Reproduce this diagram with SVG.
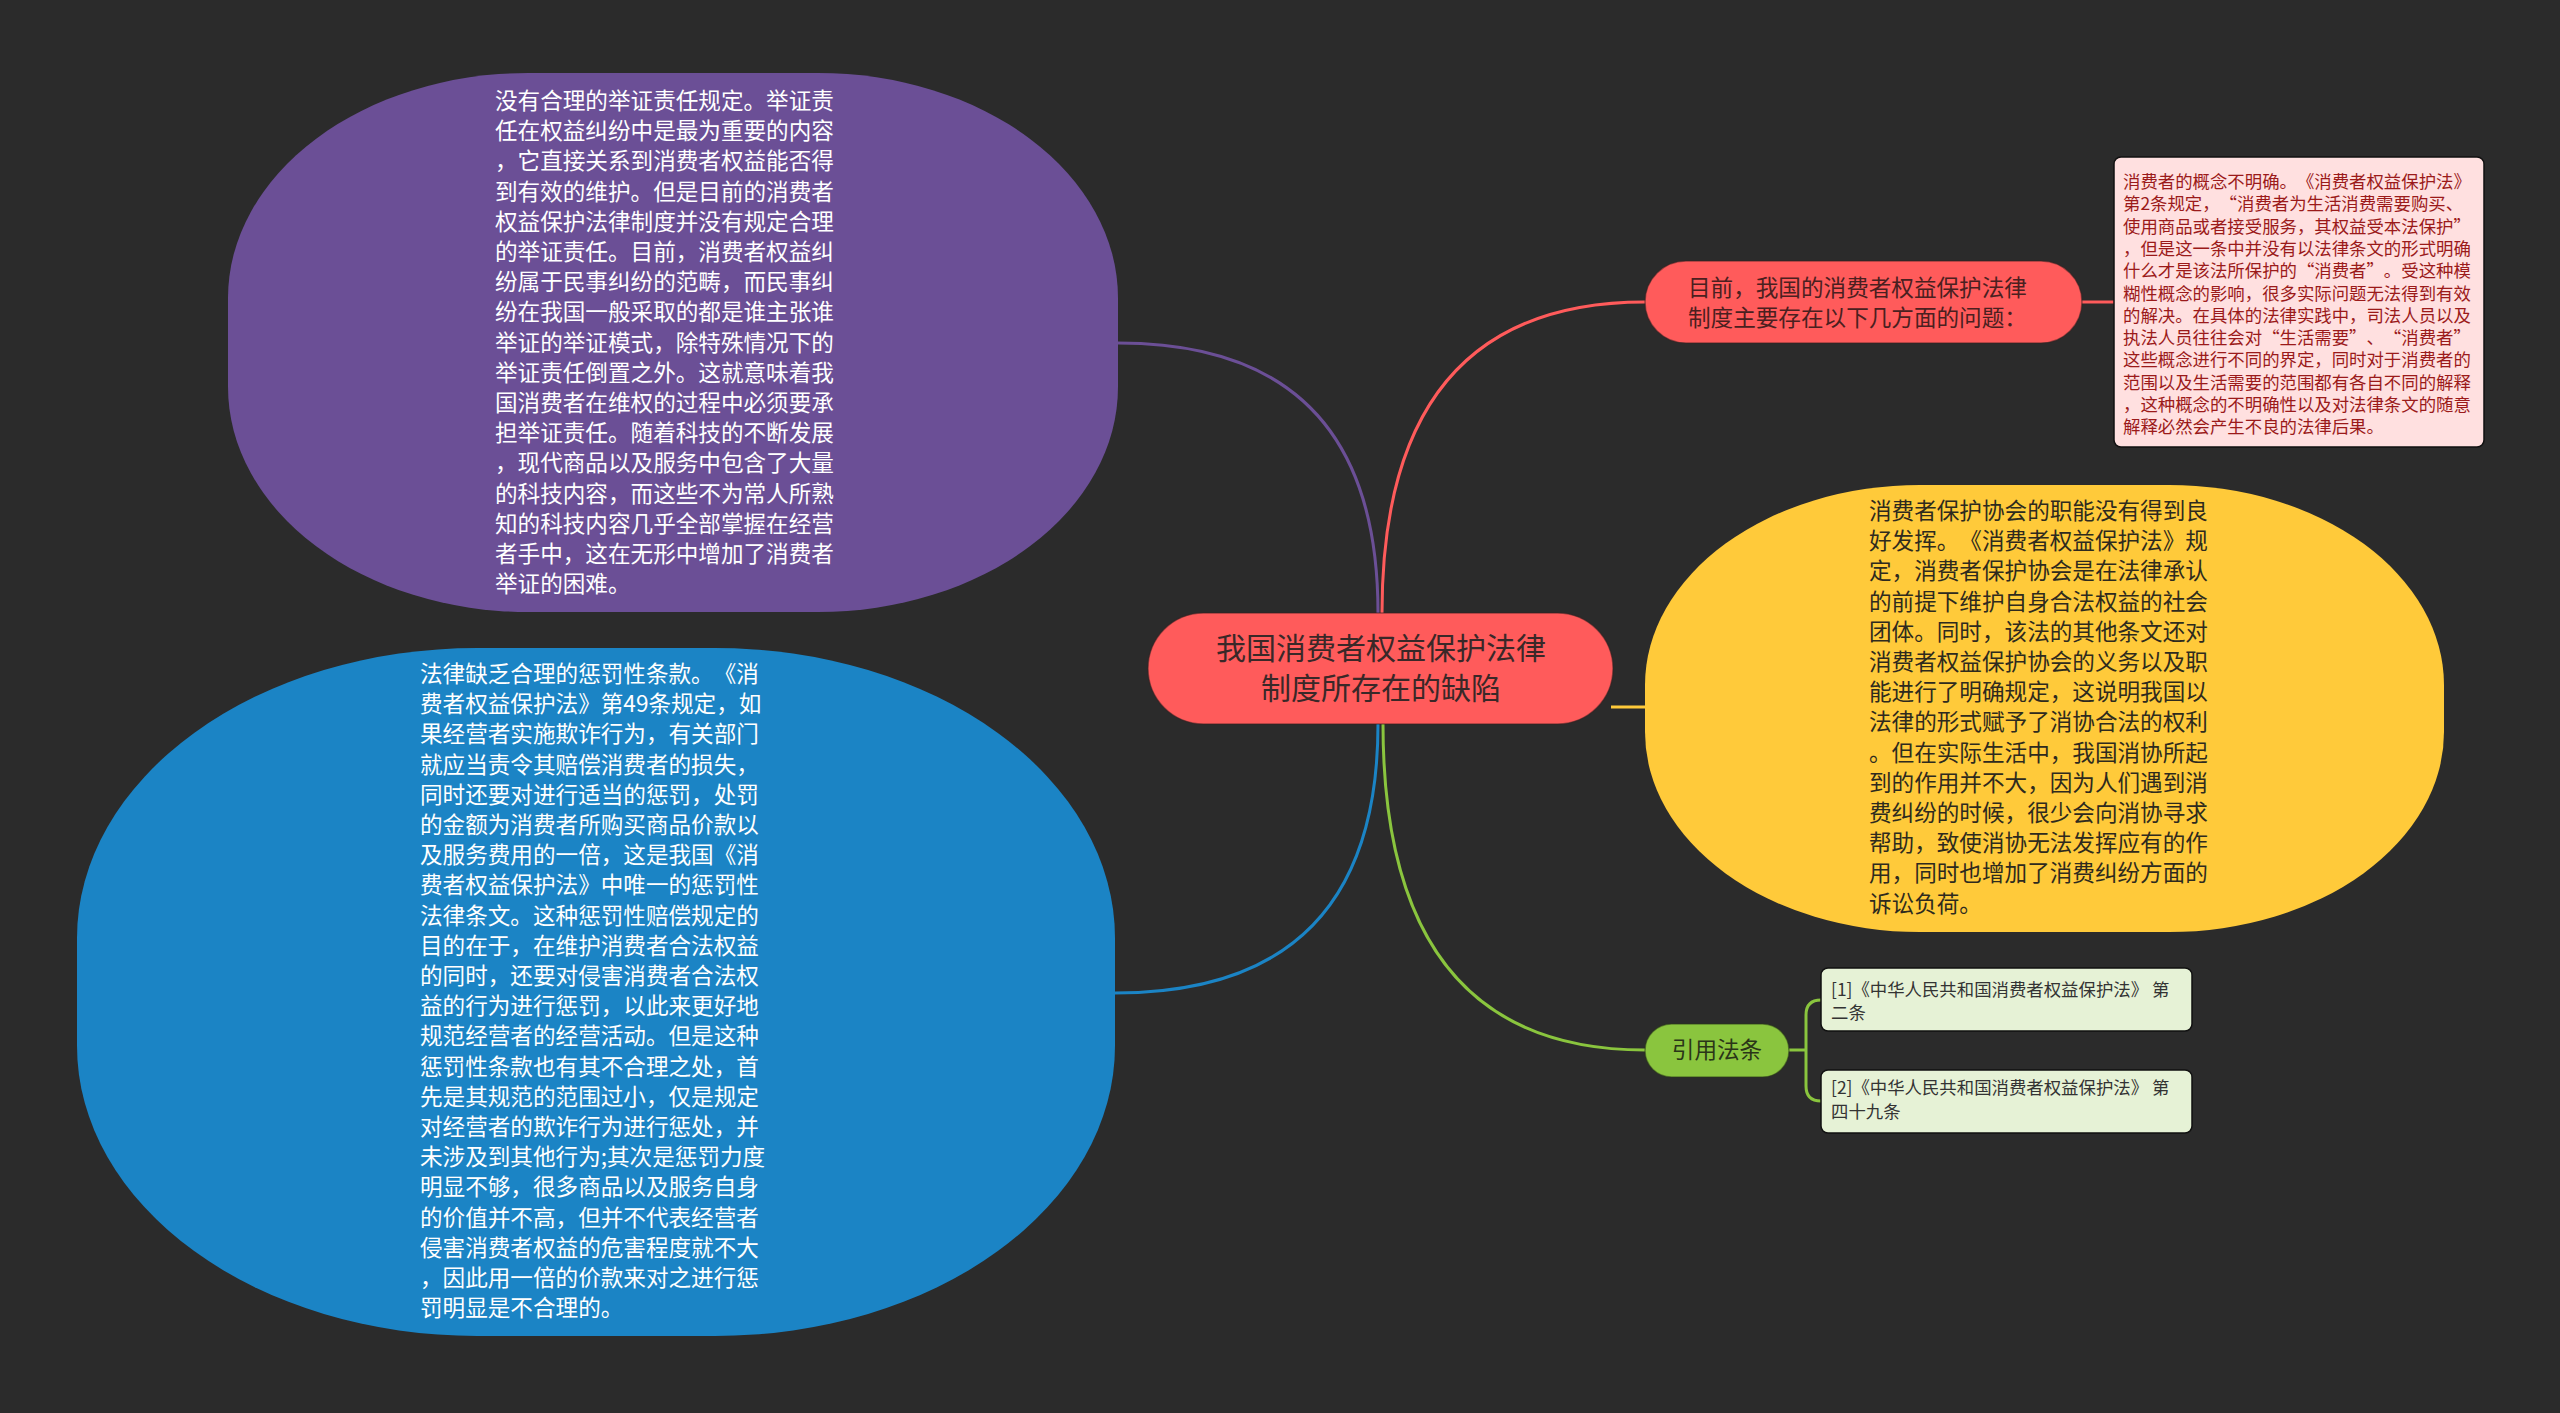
<svg xmlns="http://www.w3.org/2000/svg" width="2560" height="1413" viewBox="0 0 2560 1413">
<style>
text{font-family:"Noto Sans CJK SC","Noto Sans",sans-serif;text-spacing-trim:space-all;font-feature-settings:"chws" 0,"halt" 0;}
.big{font-size:22.6px;}
.w{fill:#ffffff;}
.dk{fill:#2e2a1e;}
.small{font-size:17.4px;}
.conn{fill:none;stroke-width:3;}
</style>
<rect width="2560" height="1413" fill="#2b2b2b"/>
<g id="connectors">
<path class="conn" stroke="#6b4f96" d="M1378 613 Q1378 343 1118 343"/>
<path class="conn" stroke="#ff5b5b" d="M1382 613 Q1382 302 1645 302"/>
<path class="conn" stroke="#ff5b5b" d="M2082 302 L2114 302"/>
<path class="conn" stroke="#ffca3a" d="M1611 707 L1645 707"/>
<path class="conn" stroke="#1b84c5" d="M1378 724 Q1378 993 1115 993"/>
<path class="conn" stroke="#8ac53e" d="M1383 724 Q1383 1050 1645 1050"/>
<path class="conn" stroke="#8ac53e" d="M1789 1050 L1806 1050 M1821 1000 Q1806 1000 1806 1015 L1806 1086 Q1806 1101 1821 1101"/>
</g>
<g id="node-purple">
<rect x="228" y="73" width="890" height="539" rx="300" ry="225" fill="#6b4f96"/>
<text class="big w" x="495">
<tspan x="495" y="109">没有合理的举证责任规定。举证责</tspan>
<tspan x="495" y="139.2">任在权益纠纷中是最为重要的内容</tspan>
<tspan x="495" y="169.4">，它直接关系到消费者权益能否得</tspan>
<tspan x="495" y="199.6">到有效的维护。但是目前的消费者</tspan>
<tspan x="495" y="229.8">权益保护法律制度并没有规定合理</tspan>
<tspan x="495" y="260">的举证责任。目前，消费者权益纠</tspan>
<tspan x="495" y="290.2">纷属于民事纠纷的范畴，而民事纠</tspan>
<tspan x="495" y="320.4">纷在我国一般采取的都是谁主张谁</tspan>
<tspan x="495" y="350.6">举证的举证模式，除特殊情况下的</tspan>
<tspan x="495" y="380.8">举证责任倒置之外。这就意味着我</tspan>
<tspan x="495" y="411">国消费者在维权的过程中必须要承</tspan>
<tspan x="495" y="441.2">担举证责任。随着科技的不断发展</tspan>
<tspan x="495" y="471.4">，现代商品以及服务中包含了大量</tspan>
<tspan x="495" y="501.6">的科技内容，而这些不为常人所熟</tspan>
<tspan x="495" y="531.8">知的科技内容几乎全部掌握在经营</tspan>
<tspan x="495" y="562">者手中，这在无形中增加了消费者</tspan>
<tspan x="495" y="592.2">举证的困难。</tspan>
</text>
</g>
<g id="node-blue">
<rect x="77" y="648" width="1038" height="688" rx="400" ry="290" fill="#1b84c5"/>
<text class="big w">
<tspan x="420" y="682">法律缺乏合理的惩罚性条款。《消</tspan>
<tspan x="420" y="712.2">费者权益保护法》第49条规定，如</tspan>
<tspan x="420" y="742.4">果经营者实施欺诈行为，有关部门</tspan>
<tspan x="420" y="772.6">就应当责令其赔偿消费者的损失，</tspan>
<tspan x="420" y="802.8">同时还要对进行适当的惩罚，处罚</tspan>
<tspan x="420" y="833">的金额为消费者所购买商品价款以</tspan>
<tspan x="420" y="863.2">及服务费用的一倍，这是我国《消</tspan>
<tspan x="420" y="893.4">费者权益保护法》中唯一的惩罚性</tspan>
<tspan x="420" y="923.6">法律条文。这种惩罚性赔偿规定的</tspan>
<tspan x="420" y="953.8">目的在于，在维护消费者合法权益</tspan>
<tspan x="420" y="984">的同时，还要对侵害消费者合法权</tspan>
<tspan x="420" y="1014.2">益的行为进行惩罚，以此来更好地</tspan>
<tspan x="420" y="1044.4">规范经营者的经营活动。但是这种</tspan>
<tspan x="420" y="1074.6">惩罚性条款也有其不合理之处，首</tspan>
<tspan x="420" y="1104.8">先是其规范的范围过小，仅是规定</tspan>
<tspan x="420" y="1135">对经营者的欺诈行为进行惩处，并</tspan>
<tspan x="420" y="1165.2">未涉及到其他行为;其次是惩罚力度</tspan>
<tspan x="420" y="1195.4">明显不够，很多商品以及服务自身</tspan>
<tspan x="420" y="1225.6">的价值并不高，但并不代表经营者</tspan>
<tspan x="420" y="1255.8">侵害消费者权益的危害程度就不大</tspan>
<tspan x="420" y="1286">，因此用一倍的价款来对之进行惩</tspan>
<tspan x="420" y="1316.2">罚明显是不合理的。</tspan>
</text>
</g>
<g id="node-center">
<rect x="1148" y="613" width="465" height="111" rx="55.5" fill="#ff5b5b" stroke="#3a2222" stroke-opacity="0.5" stroke-width="1.5"/>
<text x="1381" y="658.5" text-anchor="middle" font-size="30" fill="#3a2828">我国消费者权益保护法律</text>
<text x="1381" y="698.5" text-anchor="middle" font-size="30" fill="#3a2828">制度所存在的缺陷</text>
</g>
<g id="node-problems">
<rect x="1645" y="261" width="437" height="82" rx="41" fill="#ff5b5b" stroke="#3a2222" stroke-opacity="0.5" stroke-width="1.5"/>
<text class="big" fill="#4a2020"><tspan x="1688" y="296">目前，我国的消费者权益保护法律</tspan><tspan x="1688" y="326">制度主要存在以下几方面的问题：</tspan></text>
</g>
<g id="node-note">
<rect x="2114" y="157" width="370" height="290" rx="7" fill="#ffe0e0" stroke="#111111" stroke-width="1.5"/>
<text class="small" fill="#9b1a1a">
<tspan x="2123" y="188">消费者的概念不明确。《消费者权益保护法》</tspan>
<tspan x="2123" y="210.3">第2条规定，“消费者为生活消费需要购买、</tspan>
<tspan x="2123" y="232.6">使用商品或者接受服务，其权益受本法保护”</tspan>
<tspan x="2123" y="254.9">，但是这一条中并没有以法律条文的形式明确</tspan>
<tspan x="2123" y="277.2">什么才是该法所保护的“消费者”。受这种模</tspan>
<tspan x="2123" y="299.5">糊性概念的影响，很多实际问题无法得到有效</tspan>
<tspan x="2123" y="321.8">的解决。在具体的法律实践中，司法人员以及</tspan>
<tspan x="2123" y="344.1">执法人员往往会对“生活需要”、“消费者”</tspan>
<tspan x="2123" y="366.4">这些概念进行不同的界定，同时对于消费者的</tspan>
<tspan x="2123" y="388.7">范围以及生活需要的范围都有各自不同的解释</tspan>
<tspan x="2123" y="411">，这种概念的不明确性以及对法律条文的随意</tspan>
<tspan x="2123" y="433.3">解释必然会产生不良的法律后果。</tspan>
</text>
</g>
<g id="node-yellow">
<rect x="1645" y="485" width="799" height="447" rx="275" ry="200" fill="#ffca3a"/>
<text class="big dk">
<tspan x="1869" y="519">消费者保护协会的职能没有得到良</tspan>
<tspan x="1869" y="549.2">好发挥。《消费者权益保护法》规</tspan>
<tspan x="1869" y="579.4">定，消费者保护协会是在法律承认</tspan>
<tspan x="1869" y="609.6">的前提下维护自身合法权益的社会</tspan>
<tspan x="1869" y="639.8">团体。同时，该法的其他条文还对</tspan>
<tspan x="1869" y="670">消费者权益保护协会的义务以及职</tspan>
<tspan x="1869" y="700.2">能进行了明确规定，这说明我国以</tspan>
<tspan x="1869" y="730.4">法律的形式赋予了消协合法的权利</tspan>
<tspan x="1869" y="760.6">。但在实际生活中，我国消协所起</tspan>
<tspan x="1869" y="790.8">到的作用并不大，因为人们遇到消</tspan>
<tspan x="1869" y="821">费纠纷的时候，很少会向消协寻求</tspan>
<tspan x="1869" y="851.2">帮助，致使消协无法发挥应有的作</tspan>
<tspan x="1869" y="881.4">用，同时也增加了消费纠纷方面的</tspan>
<tspan x="1869" y="911.6">诉讼负荷。</tspan>
</text>
</g>
<g id="node-law">
<rect x="1645" y="1024" width="144" height="53" rx="26.5" fill="#8ac53e" stroke="#2a3a18" stroke-opacity="0.5" stroke-width="1.5"/>
<text class="big" x="1717" y="1058" text-anchor="middle" fill="#2a3518">引用法条</text>
</g>
<g id="node-ref1">
<rect x="1821" y="968" width="371" height="63" rx="7" fill="#e6f2d6" stroke="#111111" stroke-width="1.5"/>
<text class="small" fill="#333333"><tspan x="1831" y="996">[1]《中华人民共和国消费者权益保护法》 第</tspan><tspan x="1831" y="1019">二条</tspan></text>
</g>
<g id="node-ref2">
<rect x="1821" y="1070" width="371" height="63" rx="7" fill="#e6f2d6" stroke="#111111" stroke-width="1.5"/>
<text class="small" fill="#333333"><tspan x="1831" y="1094">[2]《中华人民共和国消费者权益保护法》 第</tspan><tspan x="1831" y="1118">四十九条</tspan></text>
</g>
</svg>
